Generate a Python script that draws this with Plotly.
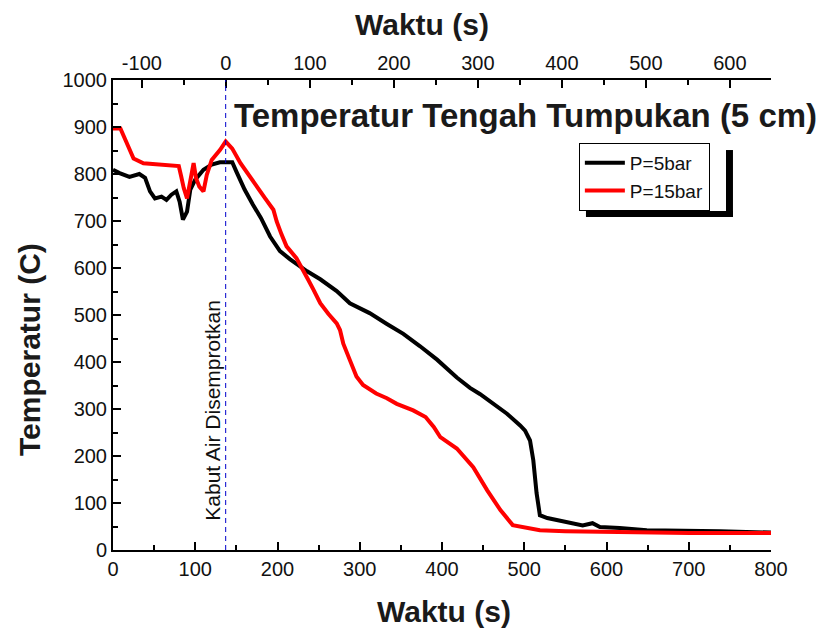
import plotly.graph_objects as go

# ---- data ----
t_5bar = [0, 8, 20, 32, 39, 45, 51, 59, 65, 71, 77, 81, 85, 90, 94, 100, 110, 120, 130, 145,
          150, 160, 170, 180, 191, 203, 215, 236, 252, 272, 288, 312, 333, 353, 373, 394, 418,
          434, 446, 479, 495, 501, 507, 511, 515, 519, 528, 556, 571, 583, 592, 616, 649, 738, 800]
v_5bar = [809, 802, 794, 800, 792, 763, 748, 752, 745, 756, 763, 741, 703, 720, 767, 788, 809, 820, 825, 825,
          805, 767, 735, 706, 667, 636, 619, 593, 576, 551, 525, 504, 481, 460, 434, 405, 367,
          345, 332, 290, 265, 254, 233, 191, 121, 74, 68, 57, 52, 57, 49, 47, 42, 40, 37]

t_15bar = [0, 9, 15, 25, 37, 71, 80, 83, 86, 90, 94, 98, 101, 105, 110, 114, 120, 130, 137, 145,
           155, 170, 185, 195, 199, 205, 211, 223, 231, 237, 244, 252, 262, 272, 276, 280, 288,
           296, 304, 320, 333, 345, 365, 380, 390, 398, 418, 438, 455, 471, 486, 503, 519, 550,
           600, 700, 800]
v_15bar = [897, 897, 873, 833, 823, 819, 817, 794, 770, 748, 784, 823, 791, 773, 763, 798, 830, 851, 869, 854,
           823, 784, 748, 724, 699, 671, 646, 621, 597, 576, 553, 525, 502, 482, 468, 439, 404,
           369, 351, 333, 323, 311, 297, 283, 262, 240, 216, 176, 127, 85, 53, 47, 42, 40,
           38, 36, 36]

spray_t = 137          # time when water mist is sprayed (bottom-axis seconds)
x_range = [0, 800]
x2_range = [-134.4, 649]
y_range = [0, 1000]
top_ticks = [-100, 0, 100, 200, 300, 400, 500, 600]
top_labels = [str(v) for v in top_ticks]   # plain hyphen minus, as in the original

FONT = "Liberation Sans, Arial, sans-serif"

fig = go.Figure()
fig.add_trace(go.Scatter(x=t_5bar, y=v_5bar, mode="lines", name="P=5bar",
                         line=dict(color="#000000", width=4)))
fig.add_trace(go.Scatter(x=t_15bar, y=v_15bar, mode="lines", name="P=15bar",
                         line=dict(color="#ff0000", width=4)))

axis_common = dict(showgrid=False, zeroline=False, showline=True, linecolor="black", linewidth=2,
                   ticks="inside", ticklen=8, tickwidth=1.5, tickcolor="black",
                   tickfont=dict(family=FONT, size=20, color="#111"))

fig.update_layout(
    width=824, height=629,
    margin=dict(l=113, r=53, t=80, b=79),
    paper_bgcolor="white", plot_bgcolor="white",
    showlegend=True,
    legend=dict(x=0.708, y=0.866, xanchor="left", yanchor="top",
                bgcolor="white", bordercolor="black", borderwidth=1,
                font=dict(family=FONT, size=19, color="#111"),
                itemwidth=40, tracegroupgap=0),
    xaxis=dict(range=x_range, dtick=100, tick0=0,
               minor=dict(dtick=50, ticks="inside", ticklen=5, tickcolor="black"),
               **axis_common),
    xaxis2=dict(range=x2_range, tickmode="array", tickvals=top_ticks, ticktext=top_labels,
                overlaying="x", side="top",
                minor=dict(dtick=50, tick0=0, ticks="inside", ticklen=5, tickcolor="black"),
                **axis_common),
    yaxis=dict(range=y_range, dtick=100, tick0=0,
               minor=dict(dtick=50, ticks="inside", ticklen=5, tickcolor="black"),
               **axis_common),
)

# invisible trace so top axis is drawn
fig.add_trace(go.Scatter(x=[x2_range[0]], y=[None], xaxis="x2", showlegend=False,
                         hoverinfo="skip", mode="lines"))

# dashed vertical line
fig.add_shape(type="line", xref="x", yref="paper", x0=spray_t, x1=spray_t, y0=0, y1=1,
              line=dict(color="#0000cc", width=1, dash="5px,4px"))

# legend shadow
fig.add_shape(type="rect", xref="paper", yref="paper", x0=0.9316, x1=0.9422, y0=0.7085, y1=0.851,
              fillcolor="black", line=dict(width=0), layer="below")
fig.add_shape(type="rect", xref="paper", yref="paper", x0=0.7188, x1=0.9422, y0=0.7085, y1=0.7213,
              fillcolor="black", line=dict(width=0), layer="below")

# titles
fig.add_annotation(text="<b>Temperatur Tengah Tumpukan (5 cm)</b>", xref="paper", yref="paper",
                   x=(232 - 113) / 658, y=(550 - 115) / 470, xanchor="left", yanchor="middle",
                   showarrow=False, font=dict(family=FONT, size=33, color="#1a1a1a"))
fig.add_annotation(text="<b>Waktu (s)</b>", xref="paper", yref="paper",
                   x=(444 - 113) / 658, y=(550 - 611) / 470, xanchor="center", yanchor="middle",
                   showarrow=False, font=dict(family=FONT, size=30, color="#1a1a1a"))
fig.add_annotation(text="<b>Waktu (s)</b>", xref="paper", yref="paper",
                   x=(422 - 113) / 658, y=(550 - 24) / 470, xanchor="center", yanchor="middle",
                   showarrow=False, font=dict(family=FONT, size=30, color="#1a1a1a"))
fig.add_annotation(text="<b>Temperatur (C)</b>", xref="paper", yref="paper",
                   x=(29 - 113) / 658, y=(550 - 350) / 470, xanchor="center", yanchor="middle",
                   textangle=-90, showarrow=False, font=dict(family=FONT, size=30, color="#1a1a1a"))
fig.add_annotation(text="Kabut Air Disemprotkan", xref="x", yref="paper",
                   x=120, y=(550 - 410) / 470, xanchor="center", yanchor="middle",
                   textangle=-90, showarrow=False, font=dict(family=FONT, size=21, color="#111"))

fig.write_html("out.html")
